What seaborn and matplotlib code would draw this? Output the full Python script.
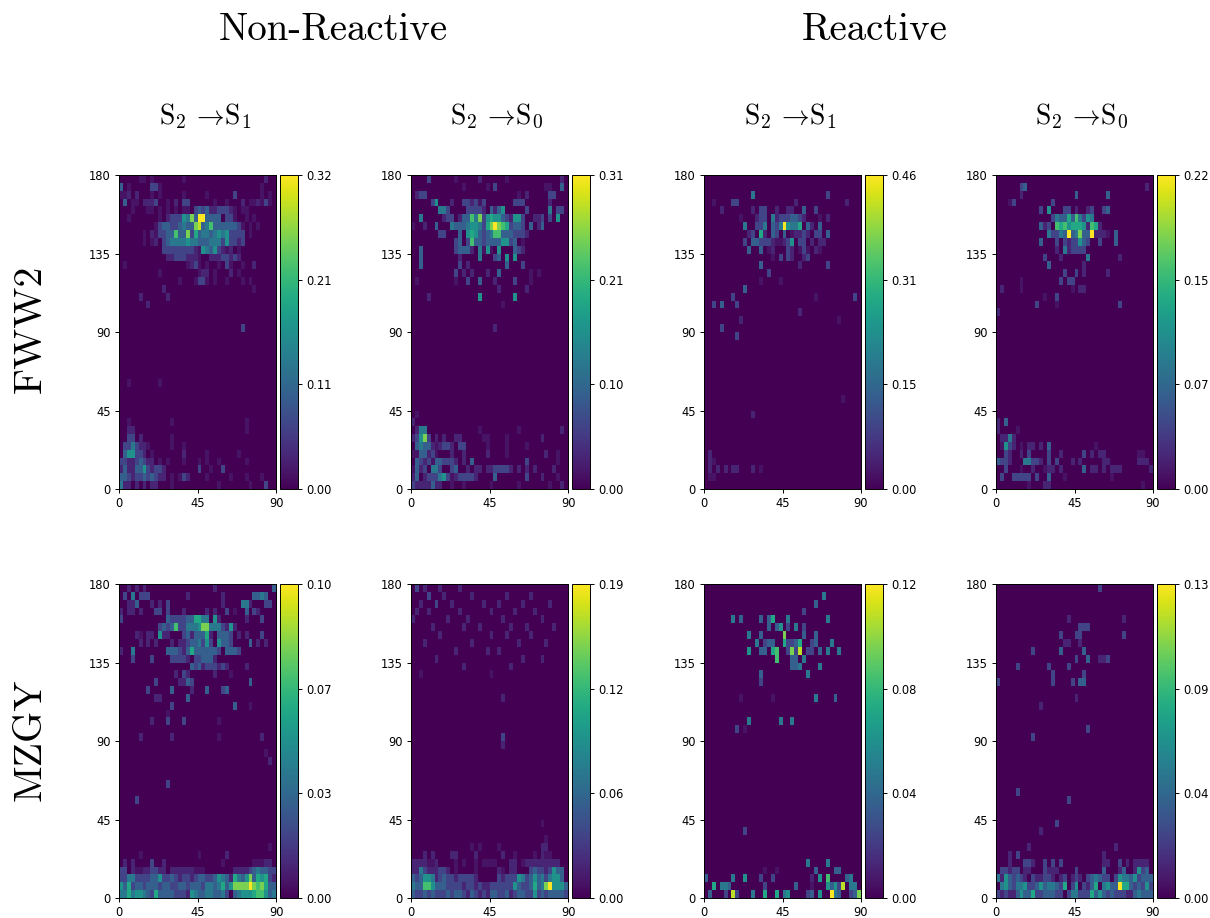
import matplotlib
matplotlib.use('Agg')
import matplotlib.pyplot as plt
import seaborn as sns
import numpy as np

# rows are counted from the top of each panel, 0.5 = barely visible, 10 = top of colourbar
# strings hold one level per cell (. = 0, f = 0.5, x = 10), dicts hold {column: level}
groups = ['Non-Reactive', 'Reactive']
molecules = ['FWW2', 'MZGY']
channels = [r'$\mathrm{S}_2\,\rightarrow\!\mathrm{S}_1$', r'$\mathrm{S}_2\,\rightarrow\!\mathrm{S}_0$']
x_labels = ['0', '45', '90']
y_labels = ['180', '135', '90', '45', '0']

vmax_fww2 = [0.32, 0.31, 0.46, 0.22]
vmax_mzgy = [0.10, 0.186, 0.12, 0.13]

fww2_nr_s1 = {
    0: '.....ff.f.......f....................1..',
    1: '3.f.....22f.........................f...',
    2: 'ff1.1...f.f.....f.....f......2......f.f.',
    3: '.3.ff.1112..f.1.22......f..f...1.ff1f2f.',
    4: '...f...ff.f.f.f.ff.2323112221f.ff.......',
    5: '..f.......f.12225483xx3333.22f..f.f.....',
    6: '.........f' + '2332234338' + '9347333333' + '2f.f.f....',
    7: '......f.1f' + '2233733826' + '3443454522' + '22.f......',
    8: '......f.f1' + '.234444544' + '3334442522' + '12........',
    9: '..........' + '.222222221' + 'f543521f1.' + 'f.........',
    10: '..........' + '..11222111' + 'f..1112212' + '1.........',
    11: '.f........' + '.......f12' + 'f.f..f.2f.' + '.f..1.....',
    12: '..........' + 'f.........' + 'f11.f...1.' + 'f.........',
    13: '..........' + '.....f...f' + '22f.f..f..' + '.f.f......',
    14: {11: 1, 34: 0.5},
    15: {5: 1, 12: 1},
    16: {7: 1},
    19: {31: 2},
    26: {2: 0.5, 10: 0.5},
    31: {2: 0.5, 32: 0.5, 13: 0.5},
    32: {2: 1, 3: 1, 32: 0.5},
    33: {2: 2, 3: 2, 5: 1, 13: 0.5},
    34: {1: 2, 2: 2, 3: 4, 4: 2, 5: 1, 6: 1, 7: 0.5, 13: 0.5, 16: 0.5},
    35: {1: 3, 2: 5, 3: 5, 4: 2, 5: 2, 6: 1, 8: 0.5, 16: 1, 22: 0.5, 30: 0.5},
    36: {0: 2, 1: 2, 2: 1, 3: 1, 4: 2, 5: 3, 6: 2, 7: 1, 8: 1, 10: 0.5, 12: 0.5, 16: 0.5, 20: 0.5, 22: 0.5, 25: 0.5, 32: 0.5},
    37: {0: 1, 1: 3, 2: 1, 3: 1, 4: 3, 5: 3, 6: 5, 7: 2, 8: 1, 9: 2, 10: 2, 11: 1, 20: 2, 23: 0.5, 26: 2},
    38: {0: 3, 1: 3, 2: 2, 3: 1, 4: 2, 5: 2, 6: 3, 7: 2, 8: 3, 9: 2, 10: 1, 11: 1, 13: 0.5, 15: 0.5, 16: 2, 17: 1, 22: 0.5, 28: 0.5, 32: 0.5, 36: 0.5},
    39: {0: 4, 1: 1, 2: 1, 4: 1, 6: 1, 8: 1, 9: 1, 13: 0.5, 25: 0.5, 33: 0.5, 37: 2},
}

fww2_nr_s0 = {
    0: '....2......f.....1......f.............1.',
    1: '.............f.....f.2............ff..3.',
    2: '.122.......................f.1.....22...',
    3: '.....25...1..2212f2.......222......1....',
    4: '.......442....22221.3135.....2.....4.22.',
    5: '..4.....12' + '2.13374825' + '655321552.' + '.112.2.5..',
    6: 'f..1..3...' + '4333455426' + '8x8762332.' + '3.13......',
    7: '.......22.' + '..3.565323' + '4773332221',
    8: '..........' + '.23.273323' + '3335523.f.',
    9: '..3.......' + '.23331.4f5' + 'f.5...321.',
    10: '..3.......' + '..1....4..' + '.23.5.5...',
    11: '..3.......' + '..2.1.....' + '....3...2.',
    12: '..........' + '.2.1.1...1' + '..3.......' + 'f.f.......',
    13: '.f........' + '.f..2..3..' + '.1....2...' + 'f.........',
    14: {22: 1, 29: 1},
    15: {4: 1, 17: 5, 26: 5},
    16: {23: 0.5},
    19: {21: 1},
    30: {1: 0.5},
    31: {0: 1},
    32: {1: 1, 2: 4, 3: 4, 17: 0.5, 27: 0.5, 38: 1},
    33: {0: 1, 1: 2, 2: 5, 3: 8, 4: 2, 6: 1, 8: 1, 11: 1, 12: 1, 18: 0.5, 19: 0.5, 24: 0.5, 33: 1},
    34: {1: 3, 2: 4, 3: 3, 4: 3, 5: 1, 6: 0.5, 7: 1, 8: 2, 9: 2, 10: 1, 12: 2, 13: 2, 19: 0.5, 24: 0.5, 29: 0.5},
    35: {0: 0.5, 1: 0.5, 2: 3, 3: 3, 4: 1, 5: 2, 6: 0.5, 10: 1, 13: 1, 19: 1, 24: 0.5, 34: 1, 37: 0.5},
    36: {1: 3, 2: 2, 3: 1, 4: 2, 5: 0.5, 6: 3, 7: 3, 8: 2, 9: 2, 10: 2, 11: 1, 13: 1, 15: 3, 29: 2, 37: 0.5},
    37: {0: 0.5, 1: 3, 2: 1, 3: 2, 5: 4, 6: 4, 7: 2, 10: 2, 11: 3, 14: 1, 16: 1, 17: 1, 19: 1, 20: 1, 21: 2, 22: 2, 23: 2, 24: 2, 25: 1, 27: 1, 29: 1, 31: 1, 36: 1},
    38: {0: 1, 1: 3, 3: 1, 4: 2, 5: 2, 6: 2, 7: 4, 8: 5, 9: 2, 10: 0.5, 11: 1, 12: 2, 13: 2, 14: 2, 15: 2, 16: 1, 21: 3, 29: 2, 33: 1, 37: 0.5},
    39: {0: 2, 1: 1, 2: 1, 3: 1, 4: 1, 5: 3, 6: 1, 7: 1, 10: 0.5, 13: 0.5, 20: 0.5, 27: 0.5, 35: 0.5, 38: 1},
}

fww2_r_s1 = {
    2: {12: 4, 31: 2},
    3: {2: 0.5, 7: 2, 8: 2, 23: 1, 36: 1},
    4: {4: 1, 12: 1, 14: 2, 15: 2, 18: 1, 21: 1, 22: 1, 25: 3, 28: 2},
    5: {9: 0.5, 13: 1, 14: 2, 15: 2, 17: 4, 18: 1, 19: 2, 20: 2, 21: 2, 22: 3, 23: 3, 24: 2, 25: 1, 29: 0.5, 31: 1},
    6: {10: 4, 13: 2, 14: 2, 15: 4, 17: 3, 18: 2, 19: 4, 20: 10, 21: 5, 22: 4, 23: 4, 24: 6, 26: 3, 27: 1, 29: 3},
    7: {11: 1, 12: 2, 14: 6, 15: 1, 17: 3, 18: 2, 20: 3, 22: 0.5, 23: 1, 24: 1, 25: 2, 26: 1, 28: 2, 29: 2, 31: 3},
    8: {10: 2, 12: 3, 13: 3, 14: 2, 15: 2, 16: 2, 17: 1, 18: 0.5, 19: 0.5, 20: 1, 21: 2, 22: 5, 24: 2, 25: 2, 27: 1, 29: 1, 30: 1},
    9: {11: 3, 14: 3, 16: 0.5, 17: 1, 21: 2, 22: 1, 24: 0.5, 25: 2, 26: 0.5, 28: 1, 29: 0.5},
    10: {17: 0.5, 19: 2, 21: 2, 22: 1, 25: 1, 26: 2},
    11: {14: 3, 24: 1, 31: 2},
    12: {16: 2},
    13: {14: 0.5, 19: 0.5},
    14: {10: 3},
    15: {7: 2, 28: 0.5, 38: 2},
    16: {2: 2, 4: 3, 8: 2},
    17: {24: 1},
    18: {9: 1, 34: 0.5},
    19: {4: 2},
    20: {8: 2},
    28: {35: 0.5},
    30: {12: 1},
    35: {1: 1},
    36: {1: 1, 2: 0.5},
    37: {1: 1, 3: 1, 5: 1, 7: 1, 8: 1, 12: 1, 14: 0.5},
    38: {1: 0.5, 2: 0.5},
}

fww2_r_s0 = {
    1: {6: 2, 7: 3, 38: 1},
    2: {6: 1, 20: 3, 28: 3},
    3: {3: 0.5, 4: 2, 14: 2},
    4: {11: 2, 13: 5, 17: 2, 18: 2, 20: 1, 23: 1, 24: 2, 27: 2, 28: 3},
    5: {14: 2, 15: 4, 16: 3, 17: 3, 18: 6, 19: 3, 20: 7, 21: 4, 22: 2, 23: 5, 24: 4},
    6: {11: 3, 12: 1, 13: 2, 15: 7, 16: 6, 17: 7, 18: 5, 19: 6, 20: 6, 21: 6, 22: 5, 23: 1, 24: 7, 25: 6, 26: 1},
    7: {13: 4, 14: 2, 15: 2, 16: 4, 17: 3, 18: 10, 19: 3, 20: 4, 21: 8, 22: 3, 23: 3, 24: 10, 25: 1, 26: 1, 27: 1, 28: 0.5, 30: 3},
    8: {11: 3, 15: 2, 17: 2, 18: 1, 19: 2, 20: 2, 21: 5, 22: 3, 23: 2, 26: 2, 30: 3},
    9: {15: 1, 17: 4, 18: 1, 19: 2, 20: 2, 21: 2, 22: 2},
    10: {12: 2, 16: 1, 23: 4, 31: 1},
    11: {13: 3, 22: 1},
    12: {17: 2, 20: 2, 22: 1, 28: 1},
    13: {6: 0.5, 16: 2, 18: 2, 19: 2},
    14: {1: 1, 6: 0.5, 19: 0.5, 21: 1, 22: 1},
    15: {12: 0.5, 15: 2},
    16: {10: 2, 15: 0.5, 31: 2},
    17: {0: 1},
    31: {0: 1, 2: 3},
    32: {0: 1, 5: 0.5},
    33: {1: 1, 2: 1, 3: 4, 4: 1},
    34: {1: 0.5, 2: 5, 3: 2, 4: 1, 6: 0.5, 8: 1, 9: 1, 11: 1, 13: 3, 25: 0.5},
    35: {2: 2, 3: 1, 6: 1, 8: 2, 13: 2, 16: 1, 22: 2, 24: 1, 26: 1, 27: 1, 36: 0.5, 37: 0.5},
    36: {0: 3, 1: 2, 2: 2, 3: 1, 7: 4, 8: 4, 9: 2, 10: 2, 11: 1, 13: 2, 15: 2, 19: 1, 21: 1, 27: 1, 28: 1, 36: 1, 37: 1, 38: 1},
    37: {2: 2, 6: 0.5, 9: 1, 12: 0.5, 13: 1, 14: 1, 16: 1, 22: 3, 24: 1, 25: 1, 27: 1, 29: 1, 30: 1, 31: 1, 39: 1},
    38: {1: 2, 4: 2, 5: 2, 6: 2, 7: 2, 8: 2, 10: 2, 13: 3, 17: 0.5, 29: 0.5},
    39: {8: 0.5, 12: 1, 13: 1, 37: 0.5},
}

mzgy_nr_s1 = {
    0: {2: 1, 4: 1, 6: 1, 24: 1, 39: 3},
    1: {1: 2, 3: 4, 5: 2, 6: 2, 7: 2, 17: 1, 26: 1, 34: 3, 35: 3, 36: 4, 37: 3},
    2: {2: 1, 3: 1, 4: 3, 8: 1, 10: 1, 12: 2, 26: 1, 31: 4, 32: 4, 33: 1, 37: 2, 38: 2},
    3: {0: 1, 2: 1, 3: 1, 5: 1, 9: 2, 10: 2, 12: 2, 16: 1, 22: 1, 24: 1, 27: 2, 29: 0.5, 32: 3, 34: 2, 35: 1},
    4: {0: 2, 12: 3, 13: 2, 14: 2, 15: 2, 16: 2, 17: 3, 18: 3, 19: 6, 20: 6, 21: 4, 22: 4, 24: 5, 25: 1, 32: 1, 36: 2},
    5: {10: 2, 11: 3, 12: 2, 13: 3, 14: 7, 15: 2, 16: 2, 17: 4, 18: 4, 19: 4, 20: 5, 21: 8, 22: 8, 23: 4, 24: 4, 25: 4, 26: 2, 27: 1, 28: 5, 29: 1},
    6: {4: 1, 5: 0.5, 7: 1, 8: 1, 10: 5, 11: 1, 12: 1, 16: 2, 17: 3, 18: 1, 19: 3, 20: 3, 21: 3, 22: 6, 23: 1, 25: 3, 26: 3, 27: 3, 28: 2, 30: 1, 32: 1, 36: 2},
    7: {5: 1, 7: 1, 9: 1, 13: 1, 15: 1, 16: 1, 17: 2, 18: 3, 19: 3, 20: 4, 21: 2, 22: 5, 23: 2, 25: 5, 26: 3, 27: 3, 28: 2, 33: 3, 35: 1, 37: 1},
    8: {0: 1, 3: 4, 12: 3, 13: 3, 14: 3, 15: 2, 16: 1, 17: 3, 18: 6, 19: 3, 20: 3, 21: 3, 22: 3, 23: 3, 24: 3, 25: 2, 27: 3, 28: 3, 29: 3, 30: 2},
    9: {3: 2, 8: 2, 13: 2, 14: 2, 15: 2, 16: 2, 17: 1, 19: 2, 20: 2, 21: 3, 22: 3, 23: 3, 24: 1},
    10: {18: 3, 19: 2, 20: 3, 21: 1, 22: 2, 23: 2, 24: 2, 25: 1, 26: 2, 27: 1, 32: 1},
    11: {14: 1, 16: 2, 17: 1, 24: 1, 28: 0.5},
    12: {9: 2, 15: 1, 16: 1, 17: 3, 18: 2, 33: 3},
    13: {7: 2, 13: 3, 18: 1, 22: 3, 26: 2, 27: 3},
    14: {9: 1, 10: 1, 17: 3},
    15: {13: 2, 29: 3, 33: 0.5},
    16: {12: 0.5},
    17: {8: 1, 12: 2, 16: 2, 25: 0.5},
    19: {5: 1, 13: 1, 25: 0.5, 36: 1},
    21: {37: 0.5},
    22: {38: 1},
    25: {12: 2},
    27: {4: 2},
    33: {38: 0.5},
    34: {5: 0.5, 20: 0.5, 27: 1},
    35: {1: 1, 3: 1, 8: 2, 11: 1, 26: 0.5, 34: 0.5, 35: 0.5, 36: 0.5, 37: 1, 38: 1},
    36: '22.1ff1122' + '11.111111f' + 'ff.......1' + '1112343322',
    37: '2244222233' + '5223212212' + '3322354316' + '4358365621',
    38: '5362332333' + '2332233233' + '3244346358' + '888x878633',
    39: '4464554326' + '3333222154' + '33443342.3' + '4555677534',
}

mzgy_nr_s0 = {
    0: {1: 2, 3: 1, 7: 1, 12: 1},
    1: {4: 2, 8: 1, 15: 1, 24: 1, 30: 1},
    2: {2: 1, 6: 2, 10: 1, 18: 1, 22: 1, 28: 1, 35: 1},
    3: {1: 1, 4: 1, 12: 1, 20: 1, 26: 1, 31: 1},
    4: {0: 1, 9: 1, 14: 1, 23: 1, 33: 1},
    5: {5: 1, 13: 1, 17: 1, 25: 1, 29: 1, 36: 1},
    6: {7: 1, 20: 1, 24: 1, 30: 1},
    7: {3: 1, 15: 1, 27: 1, 34: 1},
    8: {11: 1, 19: 1, 22: 1},
    9: {6: 1, 28: 1, 33: 1},
    10: {13: 1, 25: 1},
    11: {2: 0.5, 20: 0.5},
    14: {23: 1},
    19: {23: 2},
    20: {23: 1},
    30: {33: 0.5},
    32: {34: 0.5},
    33: {15: 0.5, 17: 0.5, 22: 0.5, 33: 1, 34: 1},
    34: {3: 1, 5: 1, 10: 1, 11: 1, 16: 1, 23: 1, 26: 0.5, 31: 0.5, 33: 1, 34: 0.5, 35: 0.5},
    35: '1111ff1...' + '.f.f..f.ff' + 'ff...11.f1' + '11111111..',
    36: '1142111221' + '.f....f...' + '..1f.11...' + '232212533.',
    37: '3235541232' + '2122221...' + '..21222542' + '353424553.',
    38: '4337753332' + '2221221211' + '2222225322' + '36348x5553',
    39: '3223232223' + '2332132121' + '3322312332' + '2523233332',
}

mzgy_r_s1 = {
    1: {30: 4},
    2: {28: 3},
    3: {25: 2},
    4: {7: 4, 9: 3, 14: 3, 16: 3, 17: 6, 21: 4, 31: 4},
    5: {16: 3, 18: 3, 19: 5, 21: 2, 23: 4, 25: 2},
    6: {11: 4, 14: 3, 20: 8, 25: 3, 28: 3},
    7: {13: 4, 15: 2, 16: 3, 17: 3, 20: 6, 21: 2, 22: 2, 23: 3, 24: 6, 27: 2, 28: 3, 32: 4},
    8: {11: 5, 14: 3, 15: 3, 17: 6, 18: 7, 21: 2, 22: 8, 23: 2, 24: 9, 26: 2, 27: 2, 29: 3, 31: 4, 34: 4},
    9: {18: 7, 22: 3, 23: 3, 25: 4},
    10: {22: 3, 23: 3, 24: 4, 29: 4},
    11: {14: 3, 26: 4},
    12: {14: 2},
    14: {9: 0.5, 17: 0.5, 28: 4, 33: 3},
    17: {11: 4, 19: 4, 22: 4},
    18: {8: 2, 10: 0.5},
    31: {10: 2},
    35: {26: 4, 31: 4},
    36: {15: 0.5, 18: 0.5, 28: 3, 33: 3, 34: 3},
    37: {0: 3, 7: 4, 10: 5, 14: 2, 17: 2, 27: 1, 29: 5, 31: 7, 36: 3, 37: 4},
    38: {2: 6, 4: 4, 5: 4, 6: 3, 15: 2, 23: 3, 27: 0.5, 31: 5, 32: 3, 33: 5, 34: 2, 35: 9, 37: 4, 38: 4},
    39: {1: 3, 5: 2, 7: 9, 8: 2, 12: 4, 15: 6, 18: 6, 20: 4, 21: 5, 26: 2, 27: 3, 29: 5, 32: 10, 33: 4, 34: 3, 37: 2, 38: 3, 39: 8},
}

mzgy_r_s0 = {
    0: {26: 2},
    4: {18: 1, 32: 1},
    5: {21: 2, 22: 2, 23: 2},
    6: {16: 2, 20: 2, 21: 2, 32: 2},
    7: {17: 1, 18: 1, 21: 1},
    8: {9: 2, 16: 3, 22: 3},
    9: {20: 2, 23: 3, 26: 1, 27: 1, 28: 2},
    10: {5: 2, 13: 2, 18: 2},
    11: {14: 2, 22: 2},
    12: {0: 2, 14: 2, 19: 2, 21: 3, 22: 3},
    14: {20: 1},
    15: {11: 1},
    18: {23: 2},
    19: {9: 2},
    26: {5: 2},
    27: {18: 2},
    30: {15: 2},
    31: {11: 1},
    33: {8: 1, 30: 1},
    34: {3: 1, 5: 2, 27: 1},
    35: {3: 1, 7: 2, 8: 2, 9: 1, 12: 2, 14: 2, 16: 2, 27: 1, 28: 1, 31: 2, 33: 1, 35: 1, 36: 1, 37: 1, 38: 1},
    36: {1: 2, 2: 2, 3: 1, 4: 2, 5: 2, 7: 1, 8: 1, 12: 2, 13: 1, 14: 1, 15: 1, 20: 2, 27: 3, 31: 1, 32: 3, 35: 1, 36: 5, 37: 2, 38: 3},
    37: '41532321.2' + '11221.12.1' + '21.234322.' + '2544352333',
    38: '.453244522' + '35344326.2' + '5.2136.453' + '3x66323252',
    39: '2121135336' + '2233322.24' + '4222635323' + '2221134333',
}

panels = [[fww2_nr_s1, fww2_nr_s0, fww2_r_s1, fww2_r_s0],
          [mzgy_nr_s1, mzgy_nr_s0, mzgy_r_s1, mzgy_r_s0]]
vmaxes = [vmax_fww2, vmax_mzgy]


def to_grid(cells, vmax):
    grid = np.zeros((40, 40))
    for row, vals in cells.items():
        if isinstance(vals, str):
            for col, ch in enumerate(vals[:40]):
                if ch == 'f':
                    grid[row, col] = 0.5
                elif ch == 'x':
                    grid[row, col] = 10
                elif ch != '.':
                    grid[row, col] = int(ch)
        else:
            for col, level in vals.items():
                grid[row, col] = level
    return grid / 10 * vmax


W, H = 1210, 918
lefts = [119, 411, 704, 996]
tops = [175, 584]
plt.rcParams['mathtext.fontset'] = 'cm'
fig = plt.figure(figsize=(W / 100, H / 100), dpi=100)

for i, row_panels in enumerate(panels):
    for j, cells in enumerate(row_panels):
        vmax = vmaxes[i][j]
        ax = fig.add_axes([lefts[j] / W, 1 - (tops[i] + 314) / H, 157 / W, 314 / H])
        cax = fig.add_axes([(lefts[j] + 161) / W, 1 - (tops[i] + 314) / H, 18 / W, 314 / H])
        sns.heatmap(to_grid(cells, vmax), cmap='viridis', vmin=0, vmax=vmax, ax=ax, cbar_ax=cax,
                    xticklabels=False, yticklabels=False,
                    cbar_kws={'ticks': vmax * np.arange(4) / 3, 'format': '%.2f'})
        ax.set_xticks([0, 20, 40], x_labels, fontsize=8.3, rotation=0)
        ax.set_yticks([0, 10, 20, 30, 40], y_labels, fontsize=8.3, rotation=0)
        ax.tick_params(length=3, width=0.7, pad=3)
        for s in ax.spines.values():
            s.set_visible(True)
            s.set_linewidth(0.7)
        cax.tick_params(labelsize=8.3, length=3, width=0.7, pad=3)
        cbar = ax.collections[0].colorbar
        cbar.outline.set_visible(True)
        cbar.outline.set_linewidth(0.7)
        if i == 0:
            fig.text((lefts[j] + 86) / W, 1 - 116 / H, channels[j % 2], fontsize=20, ha='center', va='center')

fig.text(333 / W, 1 - 30 / H, groups[0], family='cmr10', fontsize=28, ha='center', va='center')
fig.text(875 / W, 1 - 30 / H, groups[1], family='cmr10', fontsize=28, ha='center', va='center')
fig.text(31 / W, 1 - 329 / H, molecules[0], family='cmr10', fontsize=28.8, rotation=90, ha='center', va='center')
fig.text(31 / W, 1 - 740 / H, molecules[1], family='cmr10', fontsize=28.8, rotation=90, ha='center', va='center')

fig.savefig('out.png', dpi=100)
plt.close(fig)
